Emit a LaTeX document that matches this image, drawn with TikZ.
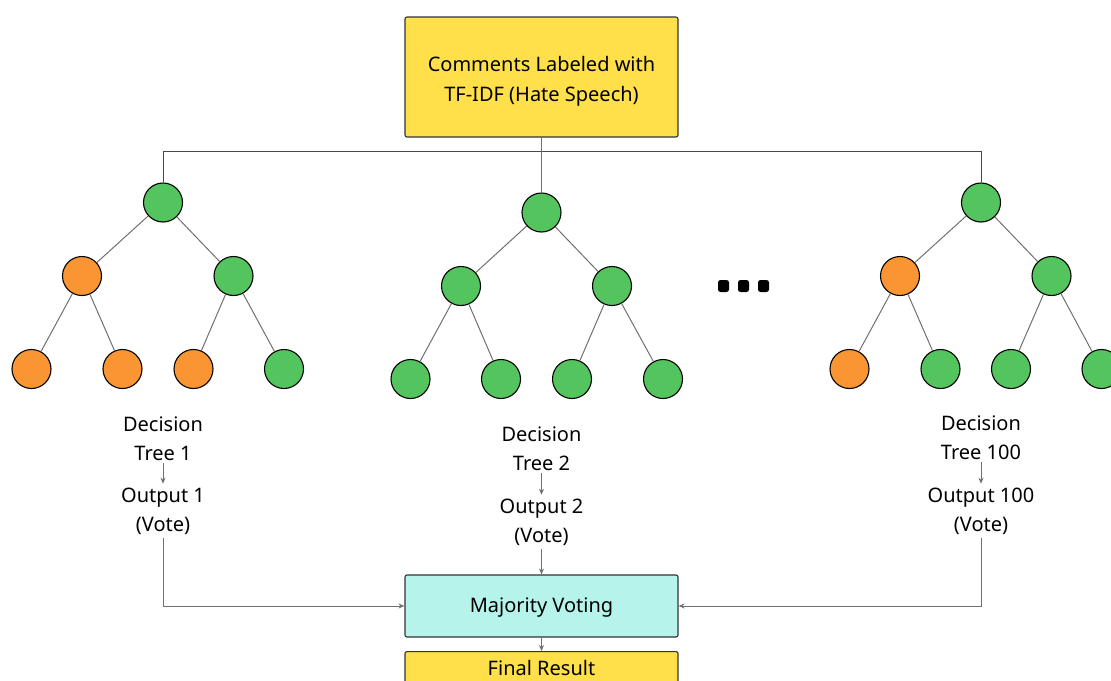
\documentclass[tikz,border=0pt]{standalone}
\usepackage{fontspec}
\setmainfont{Noto Sans}
\usetikzlibrary{arrows.meta}
\definecolor{boxyellow}{HTML}{FFE04A}
\definecolor{boxteal}{HTML}{B6F3EB}
\definecolor{leafgreen}{HTML}{54C45E}
\definecolor{leaforange}{HTML}{F99633}
\definecolor{edgegray}{HTML}{707070}
\definecolor{framegray}{HTML}{333333}
\tikzset{
  txt/.style={font=\fontsize{20}{29.5}\selectfont},
  panel/.style={draw=framegray, line width=1.1pt, rounded corners=2pt,
    inner sep=0pt, minimum width=273pt},
  gnode/.style={circle, draw=black, line width=1.1pt, fill=leafgreen,
    minimum size=39pt, inner sep=0pt},
  onode/.style={gnode, fill=leaforange},
  edge/.style={draw=edgegray, line width=1pt},
  bus/.style={draw=framegray!90, line width=1pt},
  arr/.style={edge, -{Stealth[length=6pt,width=5pt]}},
  lbl/.style={txt, align=center, inner sep=0pt},
  dotbox/.style={fill=black, rounded corners=2.5pt, minimum width=11pt,
    minimum height=12pt, inner sep=0pt}
}
\begin{document}
\begin{tikzpicture}[x=1pt,y=-1pt]
\useasboundingbox (0,0) rectangle (1111,680);
\clip (0,0) rectangle (1111,680);

% input data box
\node[panel, fill=boxyellow, minimum height=120pt] (src) at (541.5,77) {};
\node[lbl] (srctxt) at (541.5,81.5) {Comments Labeled with\\TF-IDF (Hate Speech)};

% tree 1
\node[gnode] (a0) at (163,202.5) {};
\node[onode] (a1) at (82,276) {};
\node[gnode] (a2) at (233.5,276) {};
\node[onode] (a3) at (31.5,369) {};
\node[onode] (a4) at (122.5,369) {};
\node[onode] (a5) at (193.5,369) {};
\node[gnode] (a6) at (284,369) {};
\draw[edge] (a0) -- (a1); \draw[edge] (a0) -- (a2);
\draw[edge] (a1) -- (a3); \draw[edge] (a1) -- (a4);
\draw[edge] (a2) -- (a5); \draw[edge] (a2) -- (a6);

% tree 2
\node[gnode] (b0) at (541.5,212.5) {};
\node[gnode] (b1) at (461,286) {};
\node[gnode] (b2) at (612,286) {};
\node[gnode] (b3) at (410.5,379) {};
\node[gnode] (b4) at (501,379) {};
\node[gnode] (b5) at (572,379) {};
\node[gnode] (b6) at (663,379) {};
\draw[edge] (b0) -- (b1); \draw[edge] (b0) -- (b2);
\draw[edge] (b1) -- (b3); \draw[edge] (b1) -- (b4);
\draw[edge] (b2) -- (b5); \draw[edge] (b2) -- (b6);

% tree 100
\node[gnode] (c0) at (981,202.5) {};
\node[onode] (c1) at (900,276) {};
\node[gnode] (c2) at (1051.5,276) {};
\node[onode] (c3) at (849.5,369) {};
\node[gnode] (c4) at (940.5,369) {};
\node[gnode] (c5) at (1011,369) {};
\node[gnode] (c6) at (1101.5,369) {};
\draw[edge] (c0) -- (c1); \draw[edge] (c0) -- (c2);
\draw[edge] (c1) -- (c3); \draw[edge] (c1) -- (c4);
\draw[edge] (c2) -- (c5); \draw[edge] (c2) -- (c6);

% ellipsis between trees
\node[dotbox] (d1) at (723.5,286) {};
\node[dotbox] (d2) at (743.5,286) {};
\node[dotbox] (d3) at (763.5,286) {};

% distribution bus from the input box
\coordinate (busL) at (163,151);
\coordinate (busR) at (981,151);
\draw[bus] (a0.north) -- (busL) -- (busR) -- (c0.north);
\draw[edge] (src.south) -- (b0.north);

% tree labels and outputs
\node[lbl] (t1) at (163,438.5) {Decision\\Tree 1};
\node[lbl] (o1) at (163,511.5) {Output 1\\(Vote)};
\node[lbl] (t2) at (541.5,448.5) {Decision\\Tree 2};
\node[lbl] (o2) at (541.5,522.5) {Output 2\\(Vote)};
\node[lbl] (t3) at (981,437.5) {Decision\\Tree 100};
\node[lbl] (o3) at (981,511.5) {Output 100\\(Vote)};
\draw[arr] ([yshift=-2pt]t1.south) -- ([yshift=4pt]o1.north);
\draw[arr] ([yshift=-2pt]t2.south) -- ([yshift=4pt]o2.north);
\draw[arr] ([yshift=-2pt]t3.south) -- ([yshift=4pt]o3.north);

% aggregation
\node[panel, fill=boxteal, minimum height=62pt] (vote) at (541.5,606) {};
\node[txt, inner sep=0pt] (votetxt) at (541.5,608) {Majority Voting};
\node[panel, fill=boxyellow, minimum height=62pt, anchor=north] (res) at (541.5,651) {};
\node[txt, inner sep=0pt] (restxt) at (541.5,667.5) {Final Result};

\draw[arr] ([yshift=-3pt]o1.south) |- (vote.west);
\draw[arr] ([yshift=-3pt]o2.south) -- (vote.north);
\draw[arr] ([yshift=-3pt]o3.south) |- (vote.east);
\draw[arr] (vote.south) -- (res.north);
\end{tikzpicture}
\end{document}
